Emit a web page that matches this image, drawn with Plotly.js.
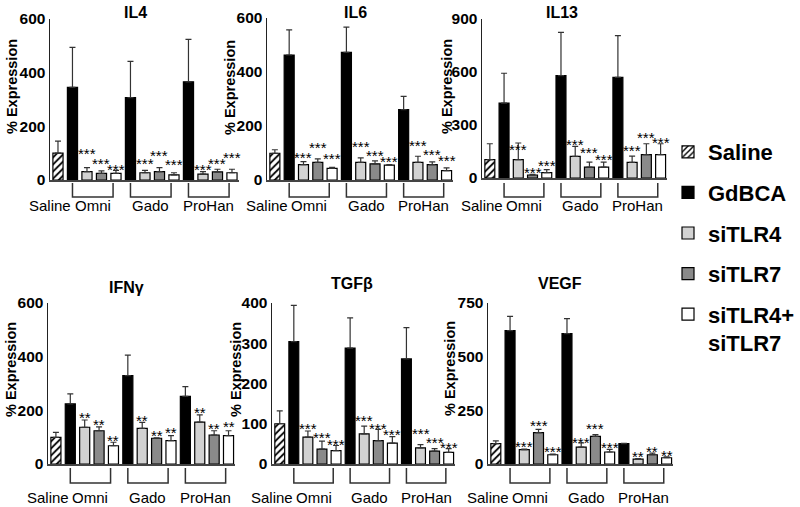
<!DOCTYPE html>
<html>
<head>
<meta charset="utf-8">
<script src="https://cdn.plot.ly/plotly-3.0.1.min.js"></script>
<style>html,body{margin:0;padding:0;background:#fff;}#chart{width:800px;height:507px;}</style>
</head>
<body>
<div id="chart"></div>
<script>
// ---------- data ----------
const seriesNames = ["Saline", "GdBCA", "siTLR4", "siTLR7", "siTLR4+<br>siTLR7"];
const groupLabels = ["Omni", "Gado", "ProHan"];
const panelTitles = ["IL4", "IL6", "IL13", "IFNγ", "TGFβ", "VEGF"];
const yTitle = "% Expression";
// bar order: Saline, then for Omni/Gado/ProHan: GdBCA, siTLR4, siTLR7, siTLR4+siTLR7
const il4Values   = [100, 345, 31, 25, 25, 307, 27, 31, 19, 366, 22, 30, 27];
const il4Errors   = [45, 149, 15, 9, 11, 135, 9, 15, 8, 158, 9, 10, 13];
const il6Values   = [99, 463, 57, 65, 43, 473, 65, 60, 55, 261, 65, 57, 35];
const il6Errors   = [13, 93, 11, 13, 4, 93, 17, 11, 2, 49, 23, 10, 10];
const il13Values  = [104, 424, 104, 17, 30, 580, 122, 62, 62, 570, 88, 132, 132];
const il13Errors  = [90, 169, 94, 3, 17, 244, 57, 28, 28, 236, 36, 62, 62];
const ifngValues  = [99, 224, 137, 124, 68, 329, 133, 96, 87, 252, 156, 108, 106];
const ifngErrors  = [19, 37, 27, 14, 13, 77, 22, 1, 19, 36, 27, 16, 18];
const tgfbValues  = [100, 304, 67, 37, 33, 288, 75, 58, 52, 261, 40, 32, 29];
const tgfbErrors  = [32, 90, 15, 20, 13, 75, 19, 28, 16, 78, 8, 6, 9];
const vegfValues  = [95, 621, 67, 146, 43, 607, 79, 129, 56, 95, 23, 43, 29];
const vegfErrors  = [13, 67, 2, 15, 3, 70, 19, 8, 12, 1, 2, 8, 4];
// significance marks over siTLR bars (Omni x3, Gado x3, ProHan x3)
const il4Stars   = ["***","***","***","***","***","***","***","***","***"];
const il4StarY   = [112, 77, 53, 77, 106, 72, 53, 75, 97];
const il6Stars   = ["***","***","***","***","***","***","***","***","***"];
const il6StarY   = [99, 134, 94, 140, 107, 84, 144, 109, 87];
const il13Stars  = ["***","***","***","***","***","***","***","***","***"];
const il13StarY  = [185, 53, 94, 213, 166, 128, 181, 254, 222];
const ifngStars  = ["**","**","**","**","**","**","**","**","**"];
const ifngStarY  = [188, 163, 103, 178, 122, 132, 205, 149, 153];
const tgfbStars  = ["***","***","***","***","***","***","***","***","***"];
const tgfbStarY  = [98, 76, 59, 119, 97, 82, 86, 63, 51];
const vegfStars  = ["***","***","***","***","***","***","**","**","**"];
const vegfStarY  = [98, 196, 79, 118, 183, 95, 53, 79, 56];
const yTicks = [[0,200,400,600],[0,200,400,600],[0,300,600,900],[0,200,400,600],[0,100,200,300,400],[0,250,500,750]];

// ---------- layout geometry (pixels) ----------
const W = 800, H = 507;
const panels = [
  {vals: il4Values,  errs: il4Errors,  stars: il4Stars,  starY: il4StarY,  x: [50, 238.5], y: [19, 180], row: 0, tx: 135, ty: 12,  yt: [12, 87]},
  {vals: il6Values,  errs: il6Errors,  stars: il6Stars,  starY: il6StarY,  x: [267, 453],  y: [18, 180], row: 0, tx: 355, ty: 12,  yt: [230, 87]},
  {vals: il13Values, errs: il13Errors, stars: il13Stars, starY: il13StarY, x: [482, 667],  y: [19, 178], row: 0, tx: 562, ty: 12,  yt: [447, 87]},
  {vals: ifngValues, errs: ifngErrors, stars: ifngStars, starY: ifngStarY, x: [48, 235],   y: [303, 464], row: 1, tx: 126, ty: 287, yt: [11, 370]},
  {vals: tgfbValues, errs: tgfbErrors, stars: tgfbStars, starY: tgfbStarY, x: [272, 455],  y: [303, 464], row: 1, tx: 352, ty: 283, yt: [236, 370]},
  {vals: vegfValues, errs: vegfErrors, stars: vegfStars, starY: vegfStarY, x: [488, 673],  y: [303, 464], row: 1, tx: 560, ty: 283, yt: [450, 369]}
];
const rowBracket = [[183, 197, 205], [468, 483, 497]];
const seriesIdx = [[0], [1,5,9], [2,6,10], [3,7,11], [4,8,12]];
const starIdx = [2,3,4,6,7,8,10,11,12];
const fills = ["#ffffff", "#000000", "#d2d2d2", "#8a8a8a", "#ffffff"];
const FONT = "Liberation Sans, Arial, sans-serif";
const px2x = p => p / W, py2y = p => 1 - p / H;

const traces = [], annotations = [], shapes = [];
const layout = {
  width: W, height: H, margin: {l: 0, r: 0, t: 0, b: 0},
  paper_bgcolor: "#fff", plot_bgcolor: "rgba(0,0,0,0)",
  barmode: "overlay", bargap: 0,
  font: {family: FONT, color: "#000"},
  showlegend: true,
  legend: {x: px2x(668), y: py2y(131), xanchor: "left", yanchor: "top", valign: "top",
           font: {family: FONT, size: 22, color: "#000", weight: "bold"},
           tracegroupgap: 9, bgcolor: "rgba(0,0,0,0)", itemwidth: 30}
};

panels.forEach((p, k) => {
  const n = k + 1;
  const xa = "x" + (n === 1 ? "" : n), ya = "y" + (n === 1 ? "" : n);
  const xKey = "xaxis" + (n === 1 ? "" : n), yKey = "yaxis" + (n === 1 ? "" : n);
  const ticks = yTicks[k];
  layout[xKey] = {domain: [px2x(p.x[0]), px2x(p.x[1])], anchor: ya, range: [-0.55, 12.45],
    showline: true, linecolor: "#444", linewidth: 1.5, showgrid: false, zeroline: false,
    showticklabels: false, ticks: "", fixedrange: true};
  layout[yKey] = {domain: [py2y(p.y[1]), py2y(p.y[0])], anchor: xa, range: [0, ticks[ticks.length - 1]],
    tickvals: ticks, ticktext: ticks.map(String), showline: true, linecolor: "#222", linewidth: 1.5,
    showgrid: false, zeroline: false, ticks: "",
    tickfont: {family: FONT, size: 15.5, color: "#000", weight: "bold"},
    title: {text: ""}, fixedrange: true};

  // y-axis title (rotated)
  annotations.push({xref: "paper", yref: "paper", x: px2x(p.yt[0]), y: py2y(p.yt[1]), text: "<b>" + yTitle + "</b>",
    textangle: -90, showarrow: false, xanchor: "center", yanchor: "middle",
    font: {family: FONT, size: 14.5, color: "#000"}});

  seriesIdx.forEach((ids, s) => {
    const marker = {color: fills[s], line: {color: "#000", width: 1.2}};
    if (s === 0) marker.pattern = {shape: "/", fgcolor: "#000", bgcolor: "#fff", size: 5, solidity: 0.35};
    traces.push({
      type: "bar", name: seriesNames[s], xaxis: xa, yaxis: ya,
      x: ids, y: ids.map(i => p.vals[i]), width: 0.7,
      marker: marker,
      error_y: {type: "data", symmetric: false, array: ids.map(i => p.errs[i]),
                arrayminus: ids.map(() => 0), color: "#333", thickness: 1.2, width: 3},
      legendgroup: "g" + s, showlegend: k === 0, hoverinfo: "skip"
    });
  });

  // panel title
  annotations.push({xref: "paper", yref: "paper", x: px2x(p.tx), y: py2y(p.ty), text: "<b>" + panelTitles[k] + "</b>",
    showarrow: false, xanchor: "center", yanchor: "middle", font: {family: FONT, size: 16, color: "#000"}});

  // stars
  starIdx.forEach((bi, j) => {
    annotations.push({xref: xa, yref: ya, x: bi, y: p.starY[j], text: p.stars[j], showarrow: false,
      xanchor: "center", yanchor: "middle", yshift: -4, font: {family: FONT, size: 15, color: "#000"}});
  });

  // category labels and brackets
  const rb = rowBracket[p.row];
  annotations.push({xref: xa, yref: "paper", x: -0.55, y: py2y(rb[2]), text: "Saline", showarrow: false,
    xanchor: "center", yanchor: "middle", font: {family: FONT, size: 15, color: "#000"}});
  groupLabels.forEach((g, gi) => {
    const x0 = gi * 4 + 1, x1 = gi * 4 + 3.8;
    annotations.push({xref: xa, yref: "paper", x: (x0 + x1) / 2, y: py2y(rb[2]), text: g, showarrow: false,
      xanchor: "center", yanchor: "middle", font: {family: FONT, size: 15, color: "#000"}});
    shapes.push({type: "path", xref: xa, yref: "paper",
      path: `M${x0},${py2y(rb[0])} L${x0},${py2y(rb[1])} L${x1},${py2y(rb[1])} L${x1},${py2y(rb[0])}`,
      line: {color: "#333", width: 1.5}});
  });
});

layout.annotations = annotations;
layout.shapes = shapes;
Plotly.newPlot("chart", traces, layout, {staticPlot: true, displayModeBar: false});
</script>
</body>
</html>
